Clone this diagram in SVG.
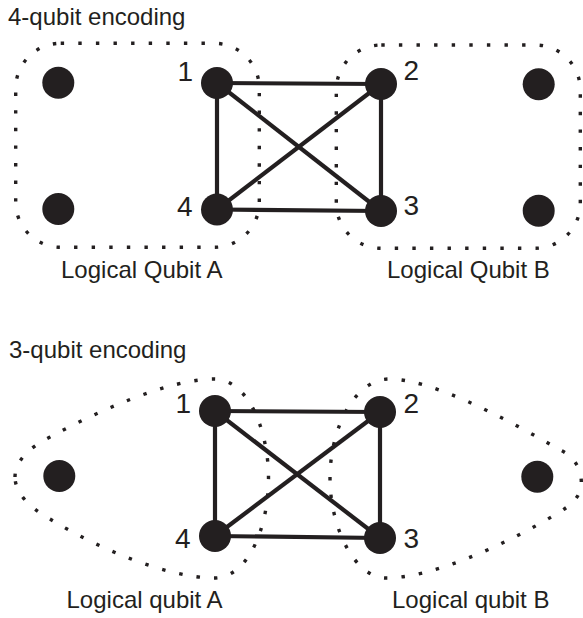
<svg xmlns="http://www.w3.org/2000/svg" width="583" height="618" viewBox="0 0 583 618">
<style>
text{font-family:"Liberation Sans",Arial,sans-serif;font-size:24px;fill:#231f20}
text.n{font-size:28px}
.q{fill:#231f20}
.e{stroke:#231f20;stroke-width:4.2;fill:none}
.dot{fill:none;stroke:#231f20;stroke-width:3.4;stroke-dasharray:3.4 14.2}
</style>
<rect width="583" height="618" fill="#fff"/>
<text x="8" y="25">4-qubit encoding</text>
<text x="9" y="358">3-qubit encoding</text>
<g id="groupsTop">
<rect id="logicalA4" class="dot" x="15.7" y="43.3" width="243.6" height="204" rx="45"/>
<rect id="logicalB4" class="dot" x="336.3" y="45" width="244" height="203.3" rx="45"/>
</g>
<g id="groupsBottom">
<path id="logicalA3" class="dot" d="M15,477 C15,462 28,448 50,437 C100,410 170,379 214,379 C248,379 268.5,430 268.5,478 C268.5,528 248,578 214,578 C170,578 100,550 50,519 C28,507 15,492 15,477 Z"/>
<path id="logicalB3" class="dot" d="M581.3,482 C581.3,467 572,455 560,450 C500,415 430,379 389,379 C355,379 330,428 330,478 C330,528 355,578 386,578 C430,578 500,548 558,513 C573,504 581.3,496 581.3,482 Z"/>
</g>
<g id="connectors">
<line class="e" x1="217" y1="83" x2="381" y2="84"/>
<line class="e" x1="217" y1="83" x2="217" y2="209.5"/>
<line class="e" x1="217" y1="83" x2="381" y2="211"/>
<line class="e" x1="381" y1="84" x2="217" y2="209.5"/>
<line class="e" x1="381" y1="84" x2="381" y2="211"/>
<line class="e" x1="217" y1="209.5" x2="381" y2="211"/>
<line class="e" x1="215" y1="411" x2="380" y2="412"/>
<line class="e" x1="215" y1="411" x2="215" y2="536"/>
<line class="e" x1="215" y1="411" x2="380" y2="538"/>
<line class="e" x1="380" y1="412" x2="215" y2="536"/>
<line class="e" x1="380" y1="412" x2="380" y2="538"/>
<line class="e" x1="215" y1="536" x2="380" y2="538"/>
</g>
<g id="t_a1"><circle class="q" cx="58.3" cy="82.7" r="16"/></g>
<g id="t_a2"><circle class="q" cx="58.3" cy="209" r="16"/></g>
<g id="t_n1"><circle class="q" cx="217" cy="83" r="16"/><text class="n" x="177.6" y="81">1</text></g>
<g id="t_n4"><circle class="q" cx="217" cy="209.5" r="16"/><text class="n" x="177" y="216">4</text></g>
<g id="t_n2"><circle class="q" cx="381" cy="84" r="16"/><text class="n" x="403.5" y="80">2</text></g>
<g id="t_n3"><circle class="q" cx="381" cy="211" r="16"/><text class="n" x="403.5" y="215">3</text></g>
<g id="t_b1"><circle class="q" cx="538.7" cy="84.3" r="16"/></g>
<g id="t_b2"><circle class="q" cx="538.7" cy="210.7" r="16"/></g>
<g id="b_a"><circle class="q" cx="59.3" cy="476" r="16"/></g>
<g id="b_n1"><circle class="q" cx="215" cy="411" r="16"/><text class="n" x="175.6" y="413">1</text></g>
<g id="b_n4"><circle class="q" cx="215" cy="536" r="16"/><text class="n" x="175" y="548">4</text></g>
<g id="b_n2"><circle class="q" cx="380" cy="412" r="16"/><text class="n" x="403.5" y="413">2</text></g>
<g id="b_n3"><circle class="q" cx="380" cy="538" r="16"/><text class="n" x="403.5" y="548">3</text></g>
<g id="b_b"><circle class="q" cx="537.3" cy="476.7" r="16"/></g>
<text x="61" y="278">Logical Qubit A</text>
<text x="387" y="278">Logical Qubit B</text>
<text x="66.5" y="608">Logical qubit A</text>
<text x="392" y="608">Logical qubit B</text>
</svg>
